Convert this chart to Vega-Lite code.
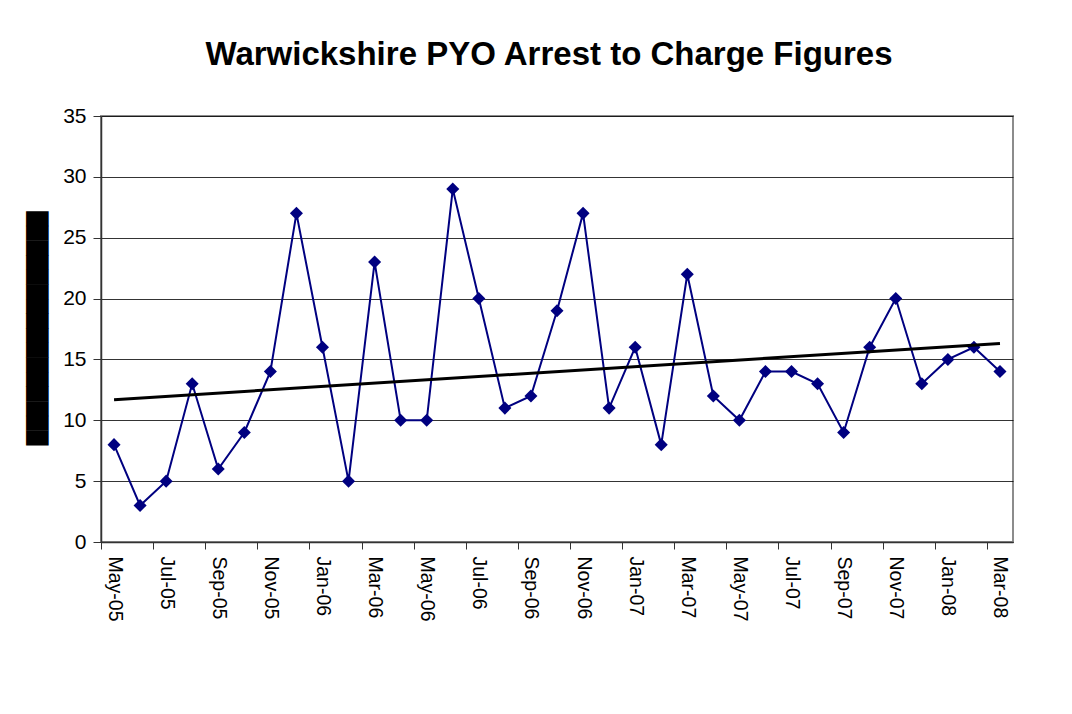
{
  "$schema": "https://vega.github.io/schema/vega-lite/v6.json",
  "autosize": "none",
  "width": 912,
  "height": 426,
  "padding": {"left": 101, "top": 116, "right": 59, "bottom": 172},
  "background": "white",
  "title": {
    "text": "Warwickshire PYO Arrest to Charge Figures",
    "font": "Liberation Sans",
    "fontSize": 33,
    "fontWeight": "bold",
    "color": "black",
    "frame": "group",
    "anchor": "middle",
    "dx": -8,
    "offset": 33
  },
  "data": {
    "values": [
      {"m": "May-05", "i": 0, "v": 8},
      {"m": "Jun-05", "i": 1, "v": 3},
      {"m": "Jul-05", "i": 2, "v": 5},
      {"m": "Aug-05", "i": 3, "v": 13},
      {"m": "Sep-05", "i": 4, "v": 6},
      {"m": "Oct-05", "i": 5, "v": 9},
      {"m": "Nov-05", "i": 6, "v": 14},
      {"m": "Dec-05", "i": 7, "v": 27},
      {"m": "Jan-06", "i": 8, "v": 16},
      {"m": "Feb-06", "i": 9, "v": 5},
      {"m": "Mar-06", "i": 10, "v": 23},
      {"m": "Apr-06", "i": 11, "v": 10},
      {"m": "May-06", "i": 12, "v": 10},
      {"m": "Jun-06", "i": 13, "v": 29},
      {"m": "Jul-06", "i": 14, "v": 20},
      {"m": "Aug-06", "i": 15, "v": 11},
      {"m": "Sep-06", "i": 16, "v": 12},
      {"m": "Oct-06", "i": 17, "v": 19},
      {"m": "Nov-06", "i": 18, "v": 27},
      {"m": "Dec-06", "i": 19, "v": 11},
      {"m": "Jan-07", "i": 20, "v": 16},
      {"m": "Feb-07", "i": 21, "v": 8},
      {"m": "Mar-07", "i": 22, "v": 22},
      {"m": "Apr-07", "i": 23, "v": 12},
      {"m": "May-07", "i": 24, "v": 10},
      {"m": "Jun-07", "i": 25, "v": 14},
      {"m": "Jul-07", "i": 26, "v": 14},
      {"m": "Aug-07", "i": 27, "v": 13},
      {"m": "Sep-07", "i": 28, "v": 9},
      {"m": "Oct-07", "i": 29, "v": 16},
      {"m": "Nov-07", "i": 30, "v": 20},
      {"m": "Dec-07", "i": 31, "v": 13},
      {"m": "Jan-08", "i": 32, "v": 15},
      {"m": "Feb-08", "i": 33, "v": 16},
      {"m": "Mar-08", "i": 34, "v": 14}
    ]
  },
  "layer": [
    {
      "mark": {"type": "line", "color": "#000080", "strokeWidth": 2, "point": {"shape": "diamond", "size": 170, "color": "#000080", "filled": true}},
      "encoding": {
        "x": {
          "field": "m",
          "type": "ordinal",
          "sort": null,
          "scale": {"type": "point", "padding": 0.5},
          "axis": {
            "title": null,
            "values": ["May-05","Jul-05","Sep-05","Nov-05","Jan-06","Mar-06","May-06","Jul-06","Sep-06","Nov-06","Jan-07","Mar-07","May-07","Jul-07","Sep-07","Nov-07","Jan-08","Mar-08"],
            "labelAngle": 90,
            "labelAlign": "left",
            "labelBaseline": "middle",
            "labelFont": "Liberation Sans",
            "labelFontSize": 19.5,
            "labelColor": "black",
            "labelPadding": 7,
            "tickOffset": -13.03,
            "labelOffset": 13.03,
            "tickSize": 7,
            "tickColor": "#333333",
            "domainColor": "#333333",
            "domainWidth": 1.5,
            "grid": false
          }
        },
        "y": {
          "field": "v",
          "type": "quantitative",
          "scale": {"domain": [0, 35], "nice": false, "zero": true},
          "axis": {
            "title": "████████████████",
            "titleFont": "DejaVu Sans",
            "titleFontSize": 19,
            "titleFontWeight": "normal",
            "titleColor": "black",
            "titleAngle": -90,
            "titleX": -64,
            "titleY": 212,
            "titleAlign": "center",
            "titleBaseline": "middle",
            "values": [0, 5, 10, 15, 20, 25, 30, 35],
            "labelFont": "Liberation Sans",
            "labelFontSize": 21,
            "labelColor": "black",
            "labelPadding": 7,
            "tickSize": 8,
            "tickColor": "#333333",
            "domainColor": "#333333",
            "domainWidth": 1.5,
            "grid": true,
            "gridColor": "#000000",
            "gridWidth": 0.8
          }
        }
      }
    },
    {
      "transform": [{"regression": "v", "on": "i", "extent": [0, 34]}],
      "mark": {"type": "line", "color": "black", "strokeWidth": 3},
      "encoding": {
        "x": {"field": "i", "type": "quantitative", "scale": {"domain": [-0.5, 34.5], "nice": false, "zero": false}, "axis": null},
        "y": {"field": "v", "type": "quantitative"}
      }
    }
  ],
  "resolve": {"scale": {"x": "independent"}},
  "config": {
    "view": {"stroke": "#8c8c8c", "strokeWidth": 2}
  }
}
